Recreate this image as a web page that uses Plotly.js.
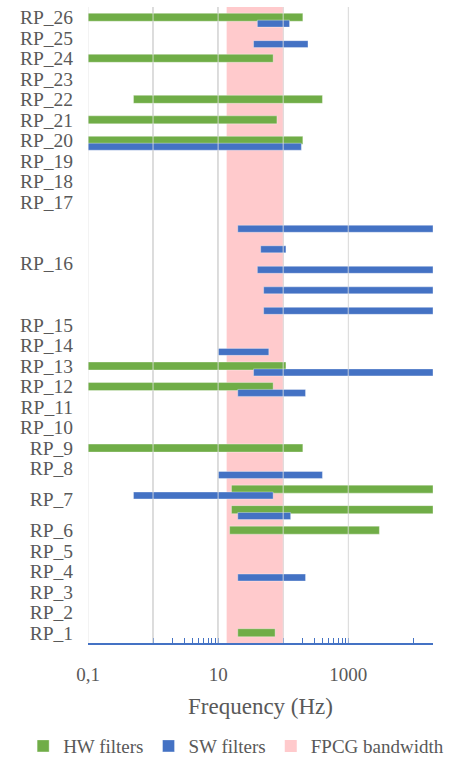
<!DOCTYPE html>
<html><head><meta charset="utf-8">
<script src="https://cdn.plot.ly/plotly-3.0.1.min.js"></script>
<style>html,body{margin:0;padding:0;background:#fff}#chart{width:450px;height:758px}</style>
</head><body><div id="chart"></div>
<script>
// ---- data ----
const groups = ['RP_1','RP_2','RP_3','RP_4','RP_5','RP_6','RP_7','RP_8','RP_9','RP_10','RP_11','RP_12','RP_13',
                'RP_14','RP_15','RP_16','RP_17','RP_18','RP_19','RP_20','RP_21','RP_22','RP_23','RP_24','RP_25','RP_26'];

// HW filters (green): group, sub-row within group (0 = lowest), low / high cut-off (Hz)
const hwGroup = ['RP_1','RP_6','RP_7','RP_7','RP_9','RP_12','RP_13','RP_20','RP_21','RP_22','RP_24','RP_26'];
const hwSub   = [0,0,0,1,0,0,0,0,0,0,0,0];
const hwLow   = [20,15,16,16,0.1,0.1,0.1,0.1,0.1,0.5,0.1,0.1];
const hwHigh  = [75,3000,20000,20000,200,70,110,200,80,400,70,200];

// SW filters (blue)
const swGroup = ['RP_4','RP_7','RP_7','RP_8','RP_12','RP_13','RP_14','RP_16','RP_16','RP_16','RP_16','RP_16','RP_20','RP_25','RP_26'];
const swSub   = [0,0,1,0,0,0,0,0,1,2,3,4,0,0,0];
const swLow   = [20,20,0.5,10,20,35,10,50,50,40,45,20,0.1,35,40];
const swHigh  = [220,130,70,400,220,20000,60,20000,20000,20000,110,20000,190,240,125];

// FPCG bandwidth
const bandLow = 13.5, bandHigh = 100;

const xMax = 20000;
const xTickVals = [0.1,1,10,100,1000];
const xTickText = ['0,1','','10','','1000'];
const xMinorTicks = [2,3,4,5,6,7,8,9,200,300,400,500,600,700,800,900,10000,20000];

// ---- row layout ----
const nSub = {};
groups.forEach(g => nSub[g] = 1);
hwGroup.forEach((g,i) => nSub[g] = Math.max(nSub[g], hwSub[i]+1));
swGroup.forEach((g,i) => nSub[g] = Math.max(nSub[g], swSub[i]+1));
const rowStart = {}; const tickPos = []; let r = 0;
groups.forEach(g => { rowStart[g] = r; tickPos.push(r + (nSub[g]-1)/2); r += nSub[g]; });
const nRows = r;

const GREEN = '#70AD47', BLUE = '#4472C4', PINK = '#FFCACC', TXT = '#595959';
const FONT = '"Liberation Serif", "Times New Roman", serif';

const band = {
  type:'bar', orientation:'h', name:'FPCG bandwidth', legendrank:3,
  y:[(nRows-1)/2], x:[bandHigh-bandLow], base:[bandLow], width:[nRows],
  marker:{color:PINK, line:{width:0}}, hoverinfo:'skip'
};
const hw = {
  type:'bar', orientation:'h', name:'HW filters', legendrank:1,
  y: hwGroup.map((g,i) => rowStart[g] + hwSub[i]),
  x: hwHigh.map((h,i) => h - hwLow[i]), base: hwLow,
  width: 0.39,
  marker:{color:GREEN, line:{color:'rgba(255,255,255,0.35)', width:1}}, hoverinfo:'skip'
};
const sw = {
  type:'bar', orientation:'h', name:'SW filters', legendrank:2,
  y: swGroup.map((g,i) => rowStart[g] + swSub[i] - 0.31),
  x: swHigh.map((h,i) => h - swLow[i]), base: swLow,
  width: 0.34,
  marker:{color:BLUE, line:{color:'rgba(255,255,255,0.35)', width:1}}, hoverinfo:'skip'
};

const shapes = xTickVals.map(v => ({
  type:'line', xref:'x', yref:'paper', x0:v, x1:v, y0:0, y1:1, layer:'above',
  line:{color:'rgba(225,225,225,0.55)', width:1.5}
}));

const layout = {
  width:450, height:758,
  margin:{l:88, r:17, t:7, b:115, pad:0, autoexpand:false},
  paper_bgcolor:'#fff', plot_bgcolor:'#fff',
  barmode:'overlay',
  showlegend:true,
  font:{family:FONT, color:TXT, size:19},
  xaxis:{
    type:'log', range:[Math.log10(0.1), Math.log10(xMax)],
    tickmode:'array', tickvals:xTickVals, ticktext:xTickText,
    showgrid:true, gridcolor:'#D9D9D9', gridwidth:1.5,
    showline:true, linecolor:BLUE, linewidth:1.5,
    ticks:'inside', ticklen:5, tickcolor:BLUE, tickwidth:1,
    minor:{tickmode:'array', tickvals:xMinorTicks, ticks:'inside', ticklen:5, tickcolor:BLUE, tickwidth:1, showgrid:false},
    zeroline:false,
    tickfont:{family:FONT, color:TXT, size:19},
    ticklabelstandoff:14,
    title:{text:'Frequency (Hz)', font:{family:FONT, color:TXT, size:23}, standoff:13},
    automargin:false,
    fixedrange:true
  },
  yaxis:{
    range:[-0.5, nRows-0.5],
    tickmode:'array', tickvals:tickPos, ticktext:groups,
    showgrid:false, zeroline:false, showline:false, ticks:'',
    ticklabelstandoff:14,
    tickfont:{family:FONT, color:TXT, size:19.5},
    automargin:false,
    fixedrange:true
  },
  legend:{
    orientation:'h',
    x:-0.188, xanchor:'left', y:-0.162, yanchor:'middle',
    traceorder:'normal', font:{family:FONT, color:TXT, size:19},
    itemwidth:30
  },
  shapes: shapes
};

Plotly.newPlot('chart', [band, hw, sw], layout, {displayModeBar:false, staticPlot:true});
</script>
</body></html>
